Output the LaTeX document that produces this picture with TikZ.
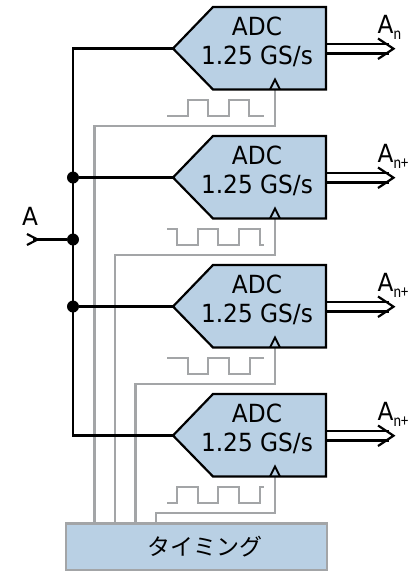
\documentclass[tikz,border=0pt]{standalone}
\usepackage{fontspec}
\setmainfont{DejaVu Sans}[FakeStretch=0.93]
\newfontfamily\cjkfont{Noto Sans CJK JP}
\newfontfamily\subfont{Carlito}[FakeStretch=0.82]
\newcommand{\subs}[1]{\raisebox{-6pt}{\subfont\fontsize{17.5}{18}\selectfont #1}}
\definecolor{adcblue}{HTML}{B9D0E4}
\definecolor{clkgray}{HTML}{A3A5A7}
\begin{document}
\begin{tikzpicture}[x=1pt,y=-1pt,
    sig/.style={draw=black,line width=2.2pt},
    clk/.style={draw=clkgray,line width=2.1pt},
    txt/.style={inner sep=0pt,font=\fontsize{25}{29}\selectfont,align=center},
    busdot/.style={circle,fill=black,inner sep=0pt,minimum size=12pt}]
\useasboundingbox (0,0) rectangle (408,571);

% timing block
\node[draw=clkgray,line width=2.1pt,fill=adcblue,minimum width=261pt,minimum height=47pt,inner sep=0pt] (tmg) at (196.5,547) {};
\node[txt,font=\fontsize{23}{29}\selectfont] (tmgtxt) at (205,547) {\cjkfont タイミング};

% ends of the clock lines
\foreach \n/\xx in {1/94.5,2/115,3/135.5,4/156}{
    \coordinate (t\n) at (\xx,523);
}

% four converters
\foreach \n/\yy/\lbl in {1/0/n, 2/129/n+, 3/258/n+, 4/387/n+}{
\begin{scope}[shift={(0,\yy)}]
    \coordinate (clk\n) at (275,89.5);
    \draw[clk] (clk\n) -- ++(0,36.5) -| (t\n);
    \draw[sig,fill=adcblue,line join=miter] (173,48.5) -- (213,7) -- (326,7) -- (326,89.5) -- (213,89.5) -- cycle;
    \coordinate (tip\n) at (173,48.5);
    \node[txt] (adc\n) at (257,41.5) {ADC\\1.25 GS/s};
    % clock input
    \draw[sig,line width=1.8pt,line join=miter] (270,89.5) -- (275,79.5) -- (280,89.5);
    % output bus
    \coordinate (o1\n) at (326,44);
    \coordinate (o2\n) at (326,53.5);
    \coordinate (p1\n) at (389,44);
    \coordinate (p2\n) at (389,53.5);
    \path [sig] (o1\n) edge (p1\n);
    \path [sig] (o2\n) edge (p2\n);
    \draw[sig,line join=miter] (378,38.5) -- (393.5,48.7) -- (378,59);
    \node[txt,anchor=base west] (out\n) at (377.5,33) {A\subs{\lbl}};
\end{scope}
}

% clock waveforms
\draw[clk] (167,116) -- (188,116) -- (188,100) -- (208,100) -- (208,116) -- (229,116) -- (229,100) -- (249,100) -- (249,116) -- (264,116);
\draw[clk] (167,229) -- (177,229) -- (177,245) -- (198,245) -- (198,229) -- (218,229) -- (218,245) -- (239,245) -- (239,229) -- (260,229) -- (260,245) -- (264,245);
\draw[clk] (167,358) -- (188,358) -- (188,374) -- (208,374) -- (208,358) -- (229,358) -- (229,374) -- (250,374) -- (250,358) -- (264,358);
\draw[clk] (167,503) -- (177,503) -- (177,487) -- (198,487) -- (198,503) -- (218,503) -- (218,487) -- (239,487) -- (239,503) -- (260,503) -- (260,487) -- (264,487);

% input and bus
\node[busdot] (d2) at (73,177.5) {};
\node[busdot] (d3) at (73,239.5) {};
\node[busdot] (d4) at (73,306.5) {};
\coordinate (top) at (73,48.5);
\coordinate (bot) at (73,435.5);
\draw[sig,line join=miter] (tip1) -- (top) -- (bot) -- (tip4);
\path [sig] (d2) edge (tip2);
\path [sig] (d4) edge (tip3);
\coordinate (inA) at (33,239.5);
\path [sig] (inA) edge (d3);
\draw[sig,line join=miter] (27,234) -- (37.5,239.5) -- (27,245);
\node[txt] (lblA) at (30,216) {A};
\end{tikzpicture}
\end{document}
